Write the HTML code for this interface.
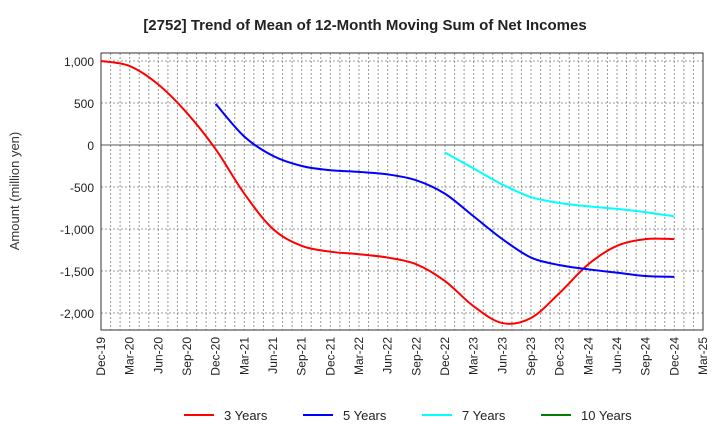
<!DOCTYPE html>
<html><head><meta charset="utf-8"><style>
body{margin:0;background:#fff;}
svg{display:block;font-family:"Liberation Sans",Arial,sans-serif;}
</style></head><body>
<svg id="c" width="720" height="440" viewBox="0 0 720 440">
<text x="365" y="30" text-anchor="middle" font-size="15" font-weight="bold" fill="#222">[2752]  Trend of Mean of 12-Month Moving Sum of Net Incomes</text>
<text transform="translate(19,191) rotate(-90)" text-anchor="middle" font-size="13" fill="#333">Amount (million yen)</text>
<g id="grid"></g>
<g id="axes"></g>
<g id="series"></g>
<g id="legend"></g>
</svg>
<script>
const xLabels=["Dec-19","Mar-20","Jun-20","Sep-20","Dec-20","Mar-21","Jun-21","Sep-21","Dec-21","Mar-22","Jun-22","Sep-22","Dec-22","Mar-23","Jun-23","Sep-23","Dec-23","Mar-24","Jun-24","Sep-24","Dec-24","Mar-25"];
const yTicks=[1000,500,0,-500,-1000,-1500,-2000];
const yTickLabels=["1,000","500","0","-500","-1,000","-1,500","-2,000"];
const s3=[1000,940,720,380,-50,-580,-1000,-1200,-1270,-1300,-1340,-1420,-1620,-1920,-2120,-2060,-1760,-1420,-1200,-1120,-1120];
const s5=[null,null,null,null,490,100,-130,-250,-300,-320,-350,-420,-580,-850,-1120,-1340,-1430,-1480,-1520,-1560,-1570];
const s7=[null,null,null,null,null,null,null,null,null,null,null,null,-90,-280,-470,-620,-690,-730,-760,-800,-850];
const s10=[];
const seriesNames=["3 Years","5 Years","7 Years","10 Years"];
const colors=["#ff0000","#0000ff","#00ffff","#008000"];
const L=101,R=703,T=53,B=330;
const ns="http://www.w3.org/2000/svg";
const X=i=>L+(R-L)*i/21;
const Y=v=>145-v*42/500;
function mk(tag,at,par){const e=document.createElementNS(ns,tag);for(const k in at)e.setAttribute(k,at[k]);par.appendChild(e);return e;}
const grid=document.getElementById('grid'),axes=document.getElementById('axes'),ser=document.getElementById('series'),leg=document.getElementById('legend');
for(let m=1;m<63;m++){const x=L+(R-L)*m/63;const e=mk('line',{x1:x,x2:x,y1:T,y2:B,stroke:'#999','stroke-dasharray':'2,2','stroke-width':1},grid);}
yTicks.forEach(v=>{const y=Y(v);const e=mk('line',{x1:L,x2:R,y1:y,y2:y,stroke:v==0?'#555':'#999','stroke-dasharray':v==0?'':'2,2','stroke-width':1},grid);});
const fr=mk('rect',{x:L,y:T,width:R-L,height:B-T,fill:'none',stroke:'#333','stroke-width':1},axes);
yTicks.forEach((v,i)=>{const t=mk('text',{x:L-7,y:Y(v)+5,'text-anchor':'end','font-size':12,fill:'#222'},axes);t.textContent=yTickLabels[i];});
xLabels.forEach((s,i)=>{const t=mk('text',{transform:`translate(${X(i)+4},337) rotate(-90)`,'text-anchor':'end','font-size':12,fill:'#222'},axes);t.textContent=s;});
function path(arr){const p=[];arr.forEach((v,i)=>{if(v!=null)p.push([X(i),Y(v)]);});if(p.length<2)return '';let d=`M${p[0][0]},${p[0][1]}`;for(let i=0;i<p.length-1;i++){const p0=p[i-1]||p[i],p1=p[i],p2=p[i+1],p3=p[i+2]||p2;d+=` C${p1[0]+(p2[0]-p0[0])/6},${p1[1]+(p2[1]-p0[1])/6} ${p2[0]-(p3[0]-p1[0])/6},${p2[1]-(p3[1]-p1[1])/6} ${p2[0]},${p2[1]}`;}return d;}
[s3,s5,s7,s10].forEach((a,k)=>{const d=path(a);if(!d)return;const e=mk('path',{d:d,fill:'none',stroke:colors[k],'stroke-width':2},ser);});
const lx=[184,303,422,541];
seriesNames.forEach((n,k)=>{const g=mk('g',{},leg);mk('line',{x1:lx[k],x2:lx[k]+30,y1:415,y2:415,stroke:colors[k],'stroke-width':2},g);const t=mk('text',{x:lx[k]+40,y:420,'font-size':13,fill:'#222'},g);t.textContent=n;});
</script>
</body></html>
